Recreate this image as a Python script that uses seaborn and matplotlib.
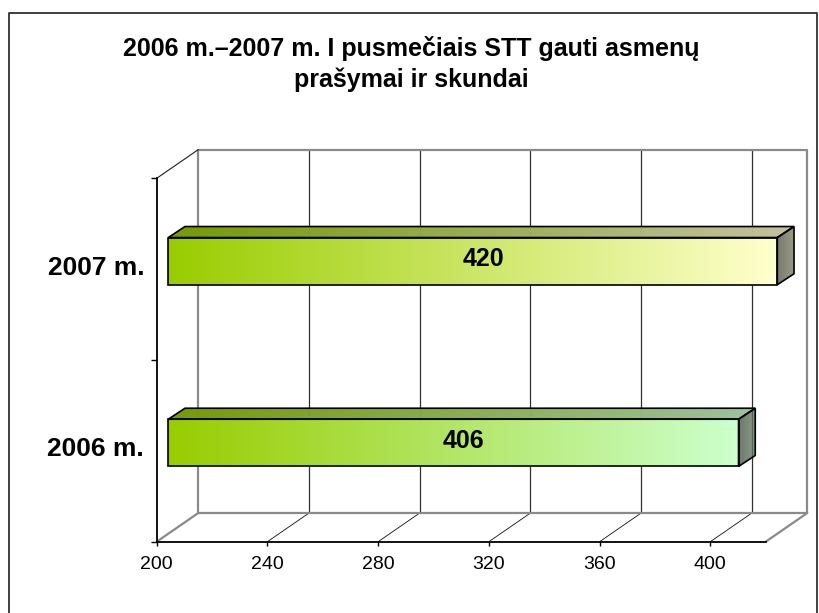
import numpy as np
import pandas as pd
import seaborn as sns
import matplotlib
matplotlib.use("Agg")
import matplotlib.pyplot as plt
from matplotlib.patches import Polygon
from matplotlib.lines import Line2D
import matplotlib.transforms as mtransforms
from matplotlib.colors import to_rgb

# ---------------- data ----------------
categories = ["2007 m.", "2006 m."]
values = [420, 406]
x_ticks = [200, 240, 280, 320, 360, 400]
x_min, x_max = 200, 420
title = "2006 m.–2007 m. I pusmečiais STT gauti asmenų\nprašymai ir skundai"
front_left = ["#99CC00", "#99CC00"]
front_right = ["#FFFFCC", "#CCFFCC"]

# ---------------- figure ----------------
W, H = 819, 613
sns.set_theme(style="white")
plt.rcParams["font.family"] = ["Liberation Sans", "DejaVu Sans"]
plt.rcParams["text.color"] = "black"
plt.rcParams["xtick.color"] = "black"
plt.rcParams["ytick.color"] = "black"
plt.rcParams["axes.labelcolor"] = "black"
fig = plt.figure(figsize=(W / 100, H / 100), dpi=100)
fig.patch.set_facecolor("white")

# front plane in pixels (top-left origin)
L, R, T, B = 156.7, 765.7, 178.3, 541.7
DX, DY = 41.6, 28.7        # depth of the 3D box
BX, BY = 11.6, 8.0         # bar front offset into the depth
BDX, BDY = 16.7, 11.0      # bar depth

ax = fig.add_axes([L / W, 1 - B / H, (R - L) / W, (B - T) / H])
ax.set_facecolor("none")

df = pd.DataFrame({"category": categories, "value": values})
sns.barplot(data=df, y="category", x="value", orient="h", width=0.26, ax=ax,
            facecolor="none", edgecolor="black", linewidth=1.2)

ax.set_xlim(x_min, x_max)
ax.set_ylim(len(categories) - 0.5, -0.5)
ax.set_xlabel("")
ax.set_ylabel("")

I = mtransforms.IdentityTransform()


def disp(x, y):
    return ax.transData.transform((x, y))


# ---------- walls, floor and gridlines ----------
xb0, yb = disp(x_min, len(categories) - 0.5)
xb1, yt = disp(x_max, -0.5)
grid_kw = dict(transform=I, clip_on=False, zorder=1)
for v in x_ticks[1:]:
    xv, _ = disp(v, 0)
    ax.add_line(Line2D([xv + DX, xv + DX], [yb + DY, yt + DY], color="#303030", lw=0.9, **grid_kw))
    ax.add_line(Line2D([xv, xv + DX], [yb, yb + DY], color="#101010", lw=0.6, **grid_kw))
ax.add_line(Line2D([xb0 + DX, xb0 + DX, xb1 + DX, xb1 + DX, xb0 + DX],
                   [yb + DY, yt + DY, yt + DY, yb + DY, yb + DY], color="#8a8a8a", lw=1.6, **grid_kw))
ax.add_line(Line2D([xb0, xb0 + DX], [yb, yb + DY], color="#8a8a8a", lw=1.6, **grid_kw))
ax.add_line(Line2D([xb1, xb1 + DX], [yb, yb + DY], color="#8a8a8a", lw=1.6, **grid_kw))
ax.add_line(Line2D([xb0, xb0 + DX], [yt, yt + DY], color="#202020", lw=0.8, **grid_kw))

for s in ["top", "right"]:
    ax.spines[s].set_visible(False)
for s in ["left", "bottom"]:
    ax.spines[s].set_color("black")
    ax.spines[s].set_linewidth(1.3)
    ax.spines[s].set_zorder(2)

ax.set_xticks(x_ticks)
ax.set_xticklabels([str(t) for t in x_ticks], fontsize=14)
ax.tick_params(axis="x", direction="out", length=3, width=1, color="black", pad=7, bottom=True)
ax.set_yticks(range(len(categories)))
ax.set_yticklabels(categories, fontsize=19, fontweight="bold")
ax.tick_params(axis="y", which="major", length=0, pad=9)
ax.set_yticks([i - 0.5 for i in range(len(categories) + 1)], minor=True)
ax.tick_params(axis="y", which="minor", direction="out", length=4, width=1, color="black", left=True)
lab_shift = mtransforms.ScaledTranslation(0, 4 / 100, fig.dpi_scale_trans)
for lab in ax.get_yticklabels():
    lab.set_transform(lab.get_transform() + lab_shift)


# ---------- bars: front (seaborn), top, side ----------
def mix(c1, c2, t):
    a, b = np.array(to_rgb(c1)), np.array(to_rgb(c2))
    return tuple(a + (b - a) * t)


def shade(c, f):
    return tuple(np.clip(np.array(to_rgb(c)) * f, 0, 1))


offset = mtransforms.ScaledTranslation(BX / 100, BY / 100, fig.dpi_scale_trans)
N = 160
for i, patch in enumerate(ax.patches[:len(categories)]):
    end = patch.get_x() + patch.get_width()
    patch.set_x(x_min)
    patch.set_width(end - x_min)
    patch.set_transform(ax.transData + offset)
    patch.set_clip_on(False)
    patch.set_zorder(6)
    y0 = patch.get_y()
    y1 = y0 + patch.get_height()
    (fx0, fyb) = disp(x_min, y1) + np.array([BX, BY])
    (fx1, fyt) = disp(end, y0) + np.array([BX, BY])
    cl, cr = front_left[i], front_right[i]
    xs = np.linspace(fx0, fx1, N + 1)
    for k in range(N):
        t = k / (N - 1)
        ax.add_patch(Polygon([(xs[k], fyb), (xs[k + 1] + 0.6, fyb), (xs[k + 1] + 0.6, fyt), (xs[k], fyt)],
                             closed=True, facecolor=mix(cl, cr, t), edgecolor="none",
                             transform=I, clip_on=False, zorder=4))
        ax.add_patch(Polygon([(xs[k], fyt), (xs[k + 1] + 0.6, fyt), (xs[k + 1] + 0.6 + BDX, fyt + BDY),
                              (xs[k] + BDX, fyt + BDY)],
                             closed=True, facecolor=shade(mix(cl, cr, t), 0.75), edgecolor="none",
                             transform=I, clip_on=False, zorder=4))
    M = 30
    for k in range(M):
        t0, t1 = k / M, (k + 1.05) / M
        ax.add_patch(Polygon([(fx1 + BDX * t0, fyb + BDY * t0), (fx1 + BDX * t1, fyb + BDY * t1),
                              (fx1 + BDX * t1, fyt + BDY * t1), (fx1 + BDX * t0, fyt + BDY * t0)],
                             closed=True, facecolor=shade(cr, 0.32 + 0.16 * k / (M - 1)), edgecolor="none",
                             transform=I, clip_on=False, zorder=4))
    ax.add_patch(Polygon([(fx0, fyt), (fx1, fyt), (fx1 + BDX, fyt + BDY), (fx0 + BDX, fyt + BDY)],
                         closed=True, facecolor="none", edgecolor="black", lw=1.2,
                         transform=I, clip_on=False, zorder=5))
    ax.add_patch(Polygon([(fx1, fyb), (fx1 + BDX, fyb + BDY), (fx1 + BDX, fyt + BDY), (fx1, fyt)],
                         closed=True, facecolor="none", edgecolor="black", lw=1.2,
                         transform=I, clip_on=False, zorder=5))
    lab_off = mtransforms.ScaledTranslation((BX + BDX / 2 + 2) / 100, (BY + 2) / 100, fig.dpi_scale_trans)
    ax.text((x_min + end) / 2, (y0 + y1) / 2, f"{values[i]}", transform=ax.transData + lab_off,
            ha="center", va="center", fontsize=18, fontweight="bold", color="black", zorder=7)

# ---------- title and outer frame ----------
fig.text(411 / W, 1 - 64 / H, title, ha="center", va="center", fontsize=18, fontweight="bold",
         linespacing=1.33, color="black")
fig.add_artist(Line2D([8.5 / W, 8.5 / W, 816.5 / W, 816.5 / W], [0, 1 - 13 / H, 1 - 13 / H, 0],
                      transform=fig.transFigure, color="#303030", lw=1.3))

fig.savefig("out.png", dpi=100, facecolor="white")
